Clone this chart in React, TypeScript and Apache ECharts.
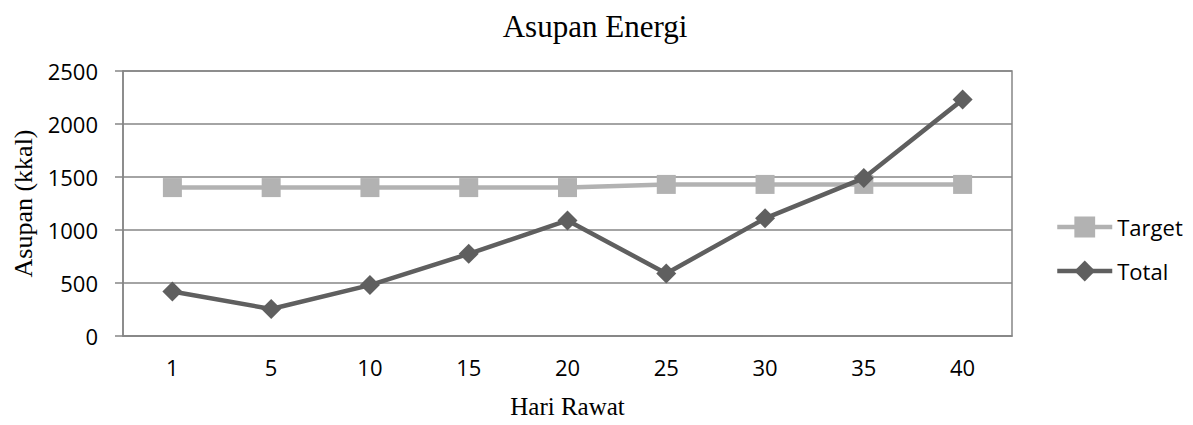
import React, { useEffect, useRef } from "react";
import * as echarts from "echarts";

const categories = ["1", "5", "10", "15", "20", "25", "30", "35", "40"];
const targetValues = [1400, 1400, 1400, 1400, 1400, 1430, 1430, 1430, 1430];
const totalValues = [420, 255, 480, 775, 1090, 590, 1110, 1490, 2230];

const GRID = "#868686";
const SANS = "'Open Sans', 'Noto Sans', sans-serif";
const SERIF = "'Liberation Serif', 'DejaVu Serif', serif";

export default function App() {
  const ref = useRef<HTMLDivElement>(null);
  useEffect(() => {
    if (!ref.current) return;
    const chart = echarts.init(ref.current, undefined, { renderer: "svg" });
    chart.setOption({
      animation: false,
      backgroundColor: "#ffffff",
      title: {
        text: "Asupan Energi",
        left: 590,
        textAlign: "center",
        top: 6,
        textStyle: { fontFamily: SERIF, fontSize: 31, fontWeight: "normal", color: "#000" },
      },
      grid: {
        left: 123,
        right: 181,
        top: 71,
        bottom: 89,
        show: true,
        borderColor: GRID,
        borderWidth: 1.5,
      },
      legend: {
        orient: "vertical",
        left: 1050,
        top: 211,
        itemWidth: 55,
        itemHeight: 26,
        itemGap: 22,
        data: ["Target", "Total"],
        lineStyle: { width: 4.5 },
        textStyle: { fontFamily: SANS, fontSize: 22, color: "#000" },
      },
      xAxis: {
        type: "category",
        data: categories,
        boundaryGap: true,
        name: "Hari Rawat",
        nameLocation: "middle",
        nameGap: 58,
        nameTextStyle: { fontFamily: SERIF, fontSize: 25, color: "#000" },
        axisLine: { show: true, lineStyle: { color: GRID, width: 1.5 } },
        axisTick: { show: false },
        axisLabel: { fontFamily: SANS, fontSize: 22, color: "#000", margin: 20 },
        splitLine: { show: false },
      },
      yAxis: {
        type: "value",
        min: 0,
        max: 2500,
        interval: 500,
        name: "Asupan (kkal)",
        nameLocation: "middle",
        nameGap: 84,
        nameTextStyle: { fontFamily: SERIF, fontSize: 26, color: "#000" },
        axisLine: { show: true, lineStyle: { color: GRID, width: 1.5 } },
        axisTick: { show: true, inside: false, length: 8, lineStyle: { color: GRID, width: 1.5 } },
        axisLabel: {
          fontFamily: SANS,
          fontSize: 22,
          color: "#000",
          margin: 25,
          formatter: (v: number) => String(v),
        },
        splitLine: { show: true, lineStyle: { color: GRID, width: 1.5 } },
      },
      series: [
        {
          name: "Target",
          type: "line",
          data: targetValues,
          symbol: "rect",
          symbolSize: 19,
          color: "#b2b2b2",
          lineStyle: { color: "#b2b2b2", width: 4.5 },
          itemStyle: { color: "#b2b2b2" },
          z: 2,
        },
        {
          name: "Total",
          type: "line",
          data: totalValues,
          symbol: "diamond",
          symbolSize: 20,
          color: "#5f5f5f",
          lineStyle: { color: "#5f5f5f", width: 4.5 },
          itemStyle: { color: "#5f5f5f" },
          z: 3,
        },
      ],
    });
    return () => chart.dispose();
  }, []);
  return (
    <div
      ref={ref}
      style={{ position: "absolute", left: 0, top: 0, width: 1193, height: 425 }}
    />
  );
}
